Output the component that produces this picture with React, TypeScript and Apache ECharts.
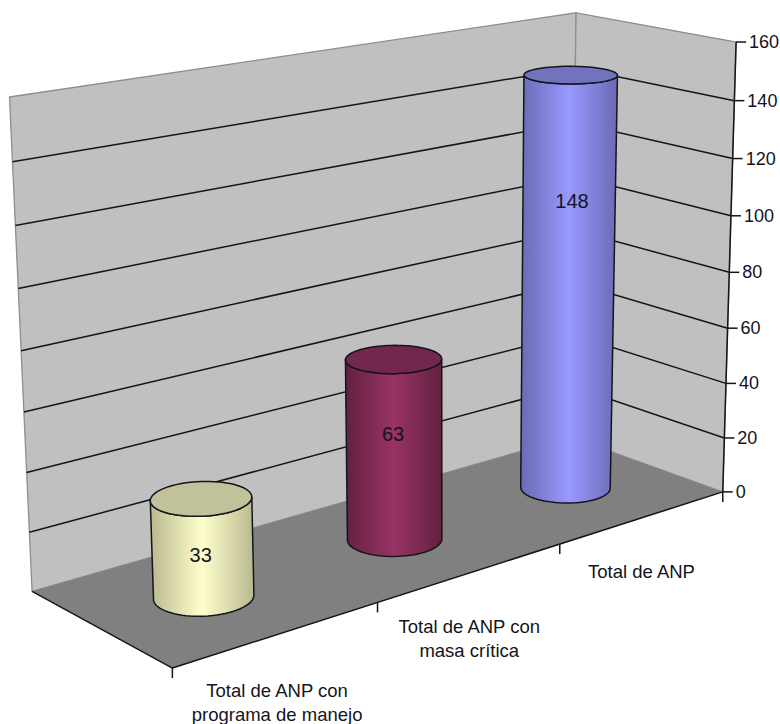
import React, { useEffect, useRef } from "react";
import * as echarts from "echarts";

const categories = ["Total de ANP con\nprograma de manejo", "Total de ANP con\nmasa crítica", "Total de ANP"];
const values = [33, 63, 148];
const tickValues = [0, 20, 40, 60, 80, 100, 120, 140, 160];

const barColors = [
  { edge: "#B9B98F", mid: "#FFFFCC", top: "#C2C29A" },
  { edge: "#62213F", mid: "#993366", top: "#72274C" },
  { edge: "#6A6AB4", mid: "#9999FF", top: "#7272BD" },
];
const labelLift = [14, 37, 104];
const labelNudge = [-2, -1, 3];
const categoryNudge = [[-1, 44], [-2, 42], [-2, 42]];

// Calibration of the picture's 3D box: [X, Y, Z] in box units -> screen pixel
const calibration: number[][] = [
  [0, 0, 0, 31, 590],
  [1, 0, 0, 573, 438],
  [1, 0, 1, 721, 490],
  [0, 0, 1, 173, 668],
  [0, 1, 0, 10, 97],
  [1, 1, 0, 574, 13],
  [1, 1, 1, 738, 42],
  [1, 0.5, 1, 729, 272],
  [1 / 3, 0, 1, 378, 604],
  [2 / 3, 0, 1, 559, 545],
];

function solveProjection(rows: number[][]) {
  const n = 11;
  const A: number[][] = Array.from({ length: n }, () => new Array(n + 1).fill(0));
  const add = (r: number[], b: number) => {
    for (let i = 0; i < n; i++) {
      for (let j = 0; j < n; j++) A[i][j] += r[i] * r[j];
      A[i][n] += r[i] * b;
    }
  };
  for (const [X, Y, Z, px, py] of rows) {
    const u = px / 1000;
    const v = py / 1000;
    add([X, Y, Z, 1, 0, 0, 0, 0, -u * X, -u * Y, -u * Z], u);
    add([0, 0, 0, 0, X, Y, Z, 1, -v * X, -v * Y, -v * Z], v);
  }
  for (let c = 0; c < n; c++) {
    let best = c;
    for (let r = c + 1; r < n; r++) if (Math.abs(A[r][c]) > Math.abs(A[best][c])) best = r;
    [A[c], A[best]] = [A[best], A[c]];
    for (let r = 0; r < n; r++) {
      if (r === c) continue;
      const f = A[r][c] / A[c][c];
      for (let k = c; k <= n; k++) A[r][k] -= f * A[c][k];
    }
  }
  return A.map((row, i) => row[n] / row[i]);
}

const P = solveProjection(calibration);
function project(X: number, Y: number, Z: number): [number, number] {
  const w = P[8] * X + P[9] * Y + P[10] * Z + 1;
  return [
    (1000 * (P[0] * X + P[1] * Y + P[2] * Z + P[3])) / w,
    (1000 * (P[4] * X + P[5] * Y + P[6] * Z + P[7])) / w,
  ];
}

const FONT = '"Liberation Sans", Arial, sans-serif';
const INK = "#14141c";
const WALL = "#C0C0C0";
const FLOOR = "#808080";
const WALL_EDGE = "#8E8E8E";
const RX = 0.068;
const RZ = 0.2;
const ZC = 0.5;

// Grid pixel -> box coordinates through the chart's own scales
function boxOf(api: any, params: any, cat: number, value: number) {
  const [px, py] = api.coord([cat, value]);
  const g = params.coordSys;
  return { X: (px - g.x) / g.width, Y: (g.y + g.height - py) / g.height };
}

const line = (a: number[], b: number[], stroke: string, lineWidth = 1.5) => ({
  type: "line",
  shape: { x1: a[0], y1: a[1], x2: b[0], y2: b[1] },
  style: { stroke, lineWidth },
});

function renderBox() {
  const c = (X: number, Y: number, Z: number) => project(X, Y, Z);
  return {
    type: "group",
    children: [
      { type: "polygon", shape: { points: [c(0, 1, 0), c(1, 1, 0), c(1, 0, 0), c(0, 0, 0)] }, style: { fill: WALL, stroke: WALL_EDGE, lineWidth: 1.3 } },
      { type: "polygon", shape: { points: [c(1, 1, 0), c(1, 1, 1), c(1, 0, 1), c(1, 0, 0)] }, style: { fill: WALL, stroke: WALL_EDGE, lineWidth: 1.3 } },
      { type: "polygon", shape: { points: [c(0, 0, 0), c(1, 0, 0), c(1, 0, 1), c(0, 0, 1)] }, style: { fill: FLOOR } },
      line(c(0, 0, 0), c(0, 0, 1), INK),
      line(c(0, 0, 1), c(1, 0, 1), INK),
    ],
  };
}

function renderGridLine(params: any, api: any) {
  const { Y } = boxOf(api, params, 0, api.value(1));
  const right = project(1, Y, 1);
  const children: any[] = [line(right, [right[0] + 10, right[1]], INK)];
  if (api.value(1) > 0 && api.value(1) < 160) {
    children.push({
      type: "polyline",
      shape: { points: [project(0, Y, 0), project(1, Y, 0), right] },
      style: { stroke: INK, lineWidth: 1.5, fill: "none" },
    });
  }
  children.push({
    type: "text",
    x: right[0] + 13,
    y: right[1],
    style: { text: String(api.value(1)), fill: INK, font: `18px ${FONT}`, align: "left", verticalAlign: "middle" },
  });
  return { type: "group", children };
}

function renderAxisFrame() {
  const children: any[] = [line(project(1, 1, 1), project(1, 0, 1), INK)];
  const base = project(1, 0, 1);
  children.push(line(base, [base[0], base[1] + 10], INK));
  for (let k = 0; k < 3; k++) {
    const p = project(k / 3, 0, 1);
    children.push(line(p, [p[0], p[1] + 10], INK));
  }
  return { type: "group", children };
}

function renderCategory(params: any, api: any) {
  const i = api.value(0);
  const { X } = boxOf(api, params, i, 0);
  const p = project(X, 0, 1);
  return {
    type: "text",
    x: p[0] + categoryNudge[i][0],
    y: p[1] + categoryNudge[i][1],
    style: { text: categories[i], fill: INK, font: `18.5px ${FONT}`, align: "center", verticalAlign: "top", lineHeight: 24 },
  };
}

function ring(X: number, Y: number) {
  const pts: [number, number][] = [];
  const N = 72;
  for (let k = 0; k < N; k++) {
    const a = (k / N) * Math.PI * 2;
    pts.push(project(X + RX * Math.cos(a), Y, ZC + RZ * Math.sin(a)));
  }
  return pts;
}

function frontArc(pts: [number, number][]) {
  let l = 0;
  let r = 0;
  pts.forEach((p, k) => {
    if (p[0] < pts[l][0]) l = k;
    if (p[0] > pts[r][0]) r = k;
  });
  const walk = (dir: number) => {
    const out: [number, number][] = [];
    for (let k = l; ; k = (k + dir + pts.length) % pts.length) {
      out.push(pts[k]);
      if (k === r) break;
    }
    return out;
  };
  const a = walk(1);
  const b = walk(-1);
  const mean = (s: [number, number][]) => s.reduce((t, p) => t + p[1], 0) / s.length;
  return mean(a) > mean(b) ? a : b;
}

function renderBar(params: any, api: any) {
  const i = api.value(0);
  const v = api.value(1);
  const { X, Y } = boxOf(api, params, i, v);
  const col = barColors[i];
  const bottom = ring(X, 0);
  const top = ring(X, Y);
  const side = [...frontArc(bottom), ...frontArc(top).reverse()];
  const fill = new echarts.graphic.LinearGradient(0, 0, 1, 0, [
    { offset: 0, color: col.edge },
    { offset: 0.5, color: col.mid },
    { offset: 1, color: col.edge },
  ]);
  const lift = boxOf(api, params, i, labelLift[i]);
  const lab = project(X, lift.Y, ZC);
  return {
    type: "group",
    children: [
      { type: "polygon", shape: { points: side }, style: { fill, stroke: INK, lineWidth: 1.5 } },
      { type: "polygon", shape: { points: top }, style: { fill: col.top, stroke: INK, lineWidth: 1.5 } },
      {
        type: "text",
        x: lab[0] + labelNudge[i],
        y: lab[1],
        style: { text: String(v), fill: INK, font: `20px ${FONT}`, align: "center", verticalAlign: "middle" },
      },
    ],
  };
}

export default function App() {
  const ref = useRef<HTMLDivElement>(null);
  useEffect(() => {
    const chart = echarts.init(ref.current!, undefined, { renderer: "svg" });
    const custom = (renderItem: any, data: any[]) => ({
      type: "custom",
      coordinateSystem: "cartesian2d",
      clip: false,
      silent: true,
      renderItem,
      encode: { x: 0, y: 1 },
      data,
    });
    chart.setOption({
      animation: false,
      backgroundColor: "#ffffff",
      grid: { left: 100, right: 100, top: 100, bottom: 100 },
      xAxis: { type: "category", data: categories, show: false },
      yAxis: { type: "value", min: 0, max: 160, interval: 20, show: false },
      series: [
        custom(renderBox, [[0, 0]]),
        custom(renderGridLine, tickValues.map((v) => [0, v])),
        custom(renderAxisFrame, [[0, 0]]),
        custom(renderBar, values.map((v, i) => [i, v])),
        custom(renderCategory, categories.map((_, i) => [i, 0])),
      ],
    });
    return () => chart.dispose();
  }, []);
  return (
    <div
      ref={ref}
      style={{ position: "absolute", left: 0, top: 0, width: 780, height: 724 }}
    />
  );
}
